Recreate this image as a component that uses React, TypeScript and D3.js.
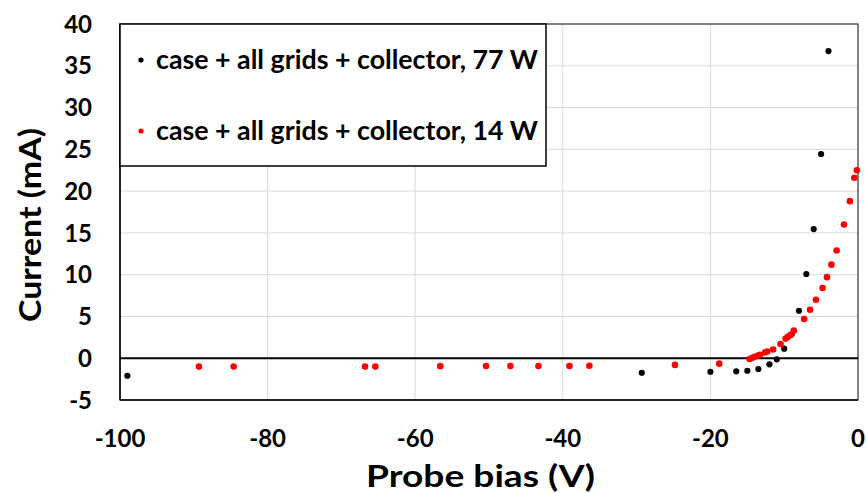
import React from "react";
import * as d3 from "d3";

const xTicks = [-100, -80, -60, -40, -20, 0];
const yTicks = [-5, 0, 5, 10, 15, 20, 25, 30, 35, 40];

const series77Label = "case + all grids + collector, 77 W";
const series77X = [-99, -29.3, -20, -16.5, -15, -13.5, -12, -11, -10, -9, -8, -7, -6, -5, -4];
const series77Y = [-2.1, -1.74, -1.62, -1.57, -1.5, -1.29, -0.73, -0.13, 1.14, 2.86, 5.68, 10.08, 15.46, 24.44, 36.76];

const series14Label = "case + all grids + collector, 14 W";
const series14X = [
  -89.3, -84.6, -66.8, -65.4, -56.6, -50.4, -47.1, -43.3, -39.1, -36.4, -24.8, -18.8,
  -14.7, -14.3, -14.0, -13.6, -13.3, -12.6, -12.3, -11.5, -10.5, -9.8, -9.5, -9.2, -8.7,
  -7.3, -6.5, -5.7, -4.8, -4.2, -3.6, -2.9, -1.9, -1.1, -0.5, -0.15,
];
const series14Y = [
  -1.0, -1.0, -1.0, -1.0, -0.95, -0.93, -0.93, -0.93, -0.93, -0.9, -0.8, -0.65,
  -0.1, 0.05, 0.18, 0.3, 0.4, 0.7, 0.8, 1.05, 1.7, 2.35, 2.55, 2.75, 3.3,
  4.7, 5.8, 7.0, 8.4, 9.7, 11.2, 12.9, 16.0, 18.8, 21.6, 22.5,
];

const xTitle = "Probe bias (V)";
const yTitle = "Current (mA)";

const W = 866;
const H = 493;
const M = { left: 120, right: 858, top: 24, bottom: 400 };
const FONT = "Lato, 'Open Sans', sans-serif";

export default function App() {
  const x = d3.scaleLinear().domain([-100, 0]).range([M.left, M.right]);
  const y = d3.scaleLinear().domain([-5, 40]).range([M.bottom, M.top]);

  const pts77 = series77X.map((v, i) => [v, series77Y[i]]);
  const pts14 = series14X.map((v, i) => [v, series14Y[i]]);

  return (
    <svg
      width={W}
      height={H}
      viewBox={`0 0 ${W} ${H}`}
      style={{ position: "absolute", left: 0, top: 0, background: "#fff" }}
    >
      <rect x={0} y={0} width={W} height={H} fill="#fff" />
      {/* gridlines */}
      {xTicks
        .filter((t) => t !== -100 && t !== 0)
        .map((t) => (
          <line key={"gx" + t} x1={x(t)} x2={x(t)} y1={M.top} y2={M.bottom} stroke="#d9d9d9" strokeWidth={1} />
        ))}
      {yTicks
        .filter((t) => t !== -5 && t !== 0 && t !== 40)
        .map((t) => (
          <line key={"gy" + t} x1={M.left} x2={M.right} y1={y(t)} y2={y(t)} stroke="#d9d9d9" strokeWidth={1} />
        ))}
      {/* plot border */}
      <rect
        x={M.left}
        y={M.top}
        width={M.right - M.left}
        height={M.bottom - M.top}
        fill="none"
        stroke="#404040"
        strokeWidth={1.3}
      />
      {/* axis lines */}
      <line x1={M.left} x2={M.left} y1={M.top} y2={M.bottom} stroke="#000" strokeWidth={1.5} />
      <line x1={M.left} x2={M.right} y1={M.bottom} y2={M.bottom} stroke="#000" strokeWidth={1.5} />
      <line x1={M.left} x2={M.right} y1={y(0)} y2={y(0)} stroke="#000" strokeWidth={2} />

      {/* data */}
      {pts77.map(([a, b], i) => (
        <circle key={"b" + i} cx={x(a)} cy={y(b)} r={3.1} fill="#000" />
      ))}
      {pts14.map(([a, b], i) => (
        <circle key={"r" + i} cx={x(a)} cy={y(b)} r={3.3} fill="#ff0000" />
      ))}

      {/* tick labels */}
      {yTicks.map((t) => (
        <text
          key={"yt" + t}
          x={92}
          y={y(t)}
          dy="0.36em"
          textAnchor="end"
          fontFamily={FONT}
          fontWeight="bold"
          fontSize={24}
          fill="#000"
        >
          {t}
        </text>
      ))}
      {xTicks.map((t) => (
        <text
          key={"xt" + t}
          x={x(t)}
          y={447}
          textAnchor="middle"
          fontFamily={FONT}
          fontWeight="bold"
          fontSize={24}
          fill="#000"
        >
          {t}
        </text>
      ))}

      {/* axis titles */}
      <text
        x={366}
        y={487}
        textLength={229}
        lengthAdjust="spacingAndGlyphs"
        fontFamily={FONT}
        fontWeight="bold"
        fontSize={31}
        fill="#000"
      >
        {xTitle}
      </text>
      <text
        transform={`translate(41,322) rotate(-90)`}
        textLength={194}
        lengthAdjust="spacingAndGlyphs"
        fontFamily={FONT}
        fontWeight="bold"
        fontSize={31}
        fill="#000"
      >
        {yTitle}
      </text>

      {/* legend */}
      <rect x={M.left} y={M.top} width={426} height={142} fill="#fff" stroke="#000" strokeWidth={1.5} />
      <circle cx={141} cy={60} r={2.6} fill="#000" />
      <text
        x={156}
        y={69}
        textLength={382}
        lengthAdjust="spacingAndGlyphs"
        fontFamily={FONT}
        fontWeight="bold"
        fontSize={26}
        fill="#000"
      >
        {series77Label}
      </text>
      <circle cx={141} cy={131} r={2.6} fill="#ff0000" />
      <text
        x={156}
        y={140}
        textLength={382}
        lengthAdjust="spacingAndGlyphs"
        fontFamily={FONT}
        fontWeight="bold"
        fontSize={26}
        fill="#000"
      >
        {series14Label}
      </text>
    </svg>
  );
}
